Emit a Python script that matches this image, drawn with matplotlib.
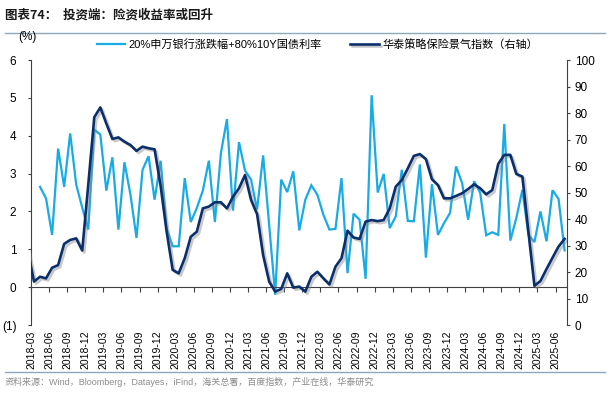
import numpy as np
import matplotlib
matplotlib.use('Agg')
import matplotlib.pyplot as plt
import matplotlib.patheffects as pe

plt.rcParams['font.family'] = ['Liberation Sans', 'Noto Sans CJK SC']

# monthly data, light series from 2018-04, dark series from 2018-02, both to 2025-07
bank_bond = [2.65, 2.34, 1.38, 3.66, 2.65, 4.06, 2.71, 2.10, 1.52, 4.16,
             4.03, 2.55, 3.43, 1.52, 3.30, 2.44, 1.30, 3.10, 3.46, 2.31,
             3.34, 1.55, 1.08, 1.08, 2.88, 1.72, 2.09, 2.55, 3.34, 1.72,
             3.54, 4.44, 2.02, 3.83, 3.08, 2.84, 2.05, 3.48, 1.65, -0.20,
             2.84, 2.51, 3.06, 1.50, 2.31, 2.69, 2.44, 1.91, 1.52, 1.54,
             2.88, 0.37, 1.94, 1.78, 0.22, 5.07, 2.50, 2.99, 1.56, 1.87,
             3.10, 1.75, 1.74, 3.24, 0.78, 2.72, 1.38, 1.69, 1.96, 3.19,
             2.75, 1.78, 2.80, 2.49, 1.37, 1.45, 1.38, 4.31, 1.23, 1.83,
             2.57, 1.38, 1.19, 2.00, 1.21, 2.56, 2.33, 0.97]

insurance_idx = [27.7, 16.4, 18.2, 17.6, 21.6, 22.6, 30.6, 32.1, 32.7, 28.1,
                 53.0, 78.4, 82.1, 76.0, 70.2, 70.8, 69.2, 67.9, 65.7, 67.3,
                 66.7, 66.3, 52.5, 35.2, 20.8, 19.5, 25.2, 33.3, 35.2, 44.0,
                 44.7, 46.3, 46.3, 44.0, 48.4, 51.6, 56.6, 47.2, 41.8, 26.4,
                 16.4, 12.6, 13.6, 19.5, 14.1, 14.5, 12.6, 18.2, 20.1, 17.6,
                 15.3, 22.0, 25.2, 35.6, 33.0, 32.5, 39.0, 39.6, 39.2, 39.6,
                 44.0, 52.2, 54.7, 59.1, 63.8, 64.5, 62.6, 55.0, 52.8, 47.8,
                 47.8, 48.7, 49.7, 51.3, 53.1, 51.6, 49.3, 50.9, 60.8, 64.2,
                 64.2, 57.0, 56.0, 35.2, 14.8, 16.6, 21.1, 25.4, 29.6, 32.5]

tick_labels = ['2018-03', '2018-06', '2018-09', '2018-12', '2019-03', '2019-06',
               '2019-09', '2019-12', '2020-03', '2020-06', '2020-09', '2020-12',
               '2021-03', '2021-06', '2021-09', '2021-12', '2022-03', '2022-06',
               '2022-09', '2022-12', '2023-03', '2023-06', '2023-09', '2023-12',
               '2024-03', '2024-06', '2024-09', '2024-12', '2025-03', '2025-06']

left_ticks = [-1, 0, 1, 2, 3, 4, 5, 6]
left_labels = ['(1)', '0', '1', '2', '3', '4', '5', '6']

LIGHT = '#19ABE6'
DARK = '#0A2F6B'

# x position: months counted from 2018-03, points sit mid-month
x_light = np.arange(len(bank_bond)) + 1 + 0.5
x_dark = np.arange(len(insurance_idx)) - 1 + 0.5
x_ticks = np.arange(len(tick_labels)) * 3

fig = plt.figure(figsize=(6.1, 3.94), dpi=100)

fig.text(0.008, 0.962, '图表74：  投资端：险资收益率或回升', fontsize=9, fontweight='bold',
         va='center', ha='left', color='#1a1a1a', family=['Noto Sans CJK SC'])
fig.add_artist(plt.Line2D([0.008, 0.992], [0.916, 0.916], color='#8FA8C0', lw=1))
fig.add_artist(plt.Line2D([0.008, 0.992], [0.056, 0.056], color='#8FA8C0', lw=1))
fig.text(0.008, 0.030, '资料来源：Wind，Bloomberg，Datayes，iFind，海关总署，百度指数，产业在线，华泰研究',
         fontsize=6.5, color='#8c8c8c', va='center', ha='left')

ax = fig.add_axes([0.0508, 0.1751, 0.8787, 0.6726])
ax2 = ax.twinx()

l1, = ax.plot(x_light, bank_bond, color=LIGHT, lw=1.6, solid_joinstyle='miter')
l2, = ax2.plot(x_dark, insurance_idx, color=DARK, lw=1.9,
               path_effects=[pe.SimpleLineShadow(offset=(1.5, -1.5), shadow_color='#888888', alpha=0.45),
                             pe.Normal()])

ax.set_xlim(0, 88.9)
ax.set_ylim(-1, 6)
ax2.set_ylim(0, 100)

ax.set_yticks(left_ticks)
ax.set_yticklabels(left_labels)
ax2.set_yticks(range(0, 101, 10))

for s in ['top', 'right']:
    ax.spines[s].set_visible(False)
for s in ['top', 'left', 'bottom']:
    ax2.spines[s].set_visible(False)
ax.spines['bottom'].set_position(('data', 0))
ax.spines['left'].set_color('#404040')
ax.spines['bottom'].set_color('#404040')
ax2.spines['right'].set_color('#404040')

ax.set_xticks(x_ticks)
ax.tick_params(axis='x', direction='out', length=3.5, color='#404040', labelbottom=False)
ax.tick_params(axis='y', direction='out', length=2.5, color='#404040', labelsize=8.5, pad=8)
ax2.tick_params(axis='y', direction='out', length=2.5, color='#404040', labelsize=8.5, pad=3)

sec = ax.secondary_xaxis('bottom')
sec.set_xticks(x_ticks)
sec.set_xticklabels(tick_labels, rotation=90, fontsize=7.5)
sec.tick_params(length=0, pad=4)
sec.spines['bottom'].set_visible(False)

fig.text(0.03, 0.905, '(%)', fontsize=8.5, ha='left', va='center')

fig.legend([l1, l2], ['20%申万银行涨跌幅+80%10Y国债利率', '华泰策略保险景气指数（右轴）'],
           loc='center', bbox_to_anchor=(0.52, 0.888), ncol=2, frameon=False,
           fontsize=8, handlelength=2.6, columnspacing=2.5, handletextpad=0.3)

fig.savefig('out.png', dpi=100)
